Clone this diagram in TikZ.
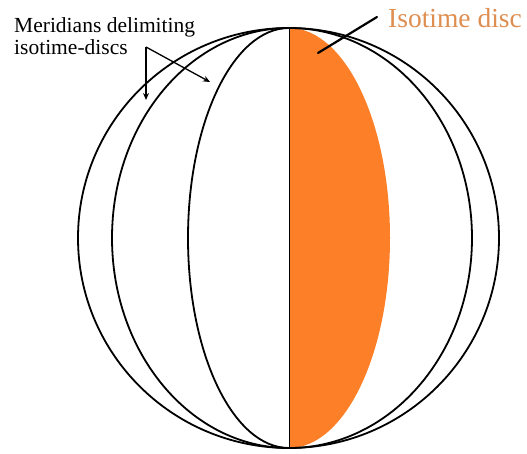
\documentclass[tikz,border=0pt]{standalone}
\usepackage{fontspec}
\setmainfont{Liberation Serif}[Ligatures=TeX]
\newfontfamily\timesfont{Liberation Serif}
\usetikzlibrary{arrows.meta}
\definecolor{discfill}{RGB}{253,128,40}
\definecolor{disctext}{RGB}{222,142,80}
\tikzset{
  meridian/.style={line width=1.8pt, black},
  pointer/.style={line width=1.3pt, black, -{Stealth[length=7pt,width=6pt]}},
  lbl/.style={inner sep=0pt, anchor=base west, font=\timesfont\fontsize{21.5}{22}\selectfont},
}
\begin{document}
\begin{tikzpicture}[x=1pt,y=1pt]
\useasboundingbox (0,0) rectangle (527,453);
\coordinate (top) at (289,425);
\coordinate (bot) at (289,5);
% orange isotime disc (right half of inner ellipse)
\fill[discfill] (top) arc[start angle=90, end angle=-90, x radius=101, y radius=210] -- cycle;
% meridians, left halves
\draw[meridian] (top) arc[start angle=90, end angle=270, x radius=211, y radius=210];
\draw[meridian] (top) arc[start angle=90, end angle=270, x radius=177, y radius=210];
\draw[meridian] (top) arc[start angle=90, end angle=270, x radius=101, y radius=210];
% meridians, right halves
\draw[meridian] (top) arc[start angle=90, end angle=-90, x radius=183, y radius=210];
\draw[meridian] (top) arc[start angle=90, end angle=-90, x radius=210, y radius=210];
% central meridian
\draw[line width=0.8pt] (top) -- (bot);
% labels
\node[lbl] (lab1) at (14,420) {Meridians delimiting};
\node[lbl] (lab2) at (14,398) {isotime-discs};
\node[lbl, font=\timesfont\fontsize{27.5}{30}\selectfont, text=disctext] (lab3) at (388,425) {Isotime disc};
% pointers
\coordinate (apex) at (146,406);
\coordinate (m1) at (146,353);
\coordinate (m2) at (210,371);
\draw[pointer] (apex) -- (m1);
\draw[pointer] (apex) -- (m2);
\coordinate (p1) at (377,436);
\coordinate (p2) at (318,400);
\draw[line width=2.2pt, line cap=round] (p1) -- (p2);
\end{tikzpicture}
\end{document}
